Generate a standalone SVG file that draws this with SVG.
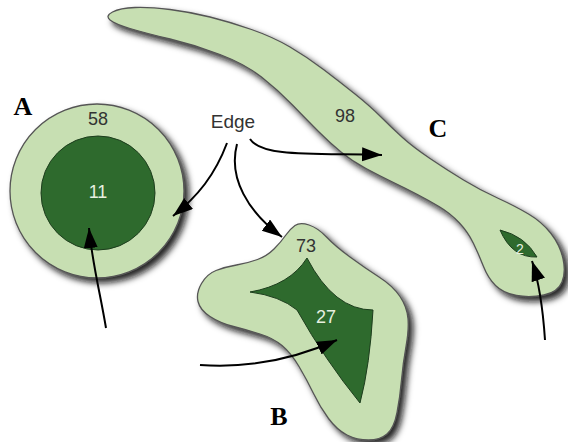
<svg xmlns="http://www.w3.org/2000/svg" width="568" height="442" viewBox="0 0 568 442">
  <defs>
    <filter id="shadow" x="-20%" y="-20%" width="140%" height="140%">
      <feDropShadow dx="4.5" dy="4.5" stdDeviation="3" flood-color="#111" flood-opacity="0.9"/>
    </filter>
    <marker id="arrow" markerUnits="userSpaceOnUse" markerWidth="22" markerHeight="16" refX="20" refY="7" orient="auto">
      <path d="M0,0 L20,7 L0,14 Z" fill="#000"/>
    </marker>
  </defs>
  <style>
    .outer { fill: #c7dfb2; stroke: #555; stroke-width: 1.3; filter: url(#shadow); }
    .inner { fill: #2e6a2d; stroke: #1d3d1d; stroke-width: 1; }
    .num { font-family: "Liberation Sans", Arial, sans-serif; font-size: 18px; text-anchor: middle; fill: #333; }
    .numw { font-family: "Liberation Sans", Arial, sans-serif; font-size: 18px; text-anchor: middle; fill: #e8f0e0; }
    .letter { font-family: "Liberation Serif", "Times New Roman", serif; font-size: 26px; font-weight: bold; text-anchor: middle; fill: #000; }
    .conn { fill: none; stroke: #000; stroke-width: 2; marker-end: url(#arrow); }
  </style>

  <g id="nodeC">
    <path class="outer" d="M110,20 Q105,16 112.5,12 Q120,8 135,7.5 Q150,7 170,9.5 Q190,12 210,17 Q230,22 251.5,29.5 Q273,37 290,47 Q307,57 323.5,69.5 Q340,82 355,94 Q370,106 381,117 Q392,128 402.5,137.5 Q413,147 430,158.5 Q447,170 463.5,180 Q480,190 497.5,198 Q515,206 528.5,214 Q542,222 551,233.5 Q560,245 563,258.5 Q566,272 562,282 Q558,292 544,295 Q530,298 516.5,295.5 Q503,293 495.5,285.5 Q488,278 483.5,266.5 Q479,255 473.5,243.5 Q468,232 459,222.5 Q450,213 439,206.5 Q428,200 416.5,194 Q405,188 392.5,182 Q380,176 366,168.5 Q352,161 341,152 Q330,143 318.5,131.5 Q307,120 292.5,105 Q278,90 261.5,77 Q245,64 220,54.5 Q195,45 170,39 Q145,33 130,28.5 Q115,24 110,20 Z"/>
    <path class="inner" d="M500,230 Q525,236 537,257 Q512,258 500,230 Z"/>
    <text class="num" x="345" y="122">98</text>
    <text class="numw" x="520" y="254" style="font-size:14px">2</text>
    <text class="letter" x="438" y="137">C</text>
  </g>

  <g id="nodeA">
    <circle class="outer" cx="97" cy="191" r="87"/>
    <circle class="inner" cx="98" cy="193" r="57"/>
    <text class="num" x="98" y="125">58</text>
    <text class="numw" x="98" y="198">11</text>
    <text class="letter" x="23" y="115">A</text>
  </g>

  <g id="nodeB">
    <path class="outer" d="M295,225.5 Q300,222 309,225 Q318,228 326.5,237 Q335,246 350,257 Q365,268 379,277 Q393,286 400,296.5 Q407,307 408,318.5 Q409,330 406,346.5 Q403,363 401.5,380 Q400,397 397,412.5 Q394,428 387,434 Q380,440 368.5,440 Q357,440 347,435 Q337,430 328.5,418.5 Q320,407 313.5,393.5 Q307,380 299,366.5 Q291,353 282,345.5 Q273,338 260,334 Q247,330 233.5,326.5 Q220,323 210,316.5 Q200,310 198,301.5 Q196,293 201.5,283.5 Q207,274 216,270.5 Q225,267 236.5,265 Q248,263 257.5,259.5 Q267,256 274,249 Q281,242 285.5,235.5 Q290,229 295,225.5 Z"/>
    <path class="inner" d="M307,258 Q334,310 373,310 Q370,365 360,403 Q325,360 297,310 Q280,296 250,292 Q290,285 307,258 Z"/>
    <text class="num" x="306" y="252">73</text>
    <text class="numw" x="326" y="323">27</text>
    <text class="letter" x="279" y="425">B</text>
  </g>

  <g id="edge-label">
    <text x="233" y="128" style="font-family:'Liberation Sans',Arial,sans-serif;font-size:19px;fill:#333;text-anchor:middle">Edge</text>
  </g>

  <g id="connectors">
    <path class="conn" d="M227,143 C215,175 198,196 173,216"/>
    <path class="conn" d="M237,144 C228,178 248,212 282,237"/>
    <path class="conn" d="M250,139 C262,158 320,153 382,155"/>
    <path class="conn" d="M106,328 C100,292 92,262 89,228"/>
    <path class="conn" d="M200,365 Q270,370 337,340"/>
    <path class="conn" d="M545,340 C543,310 540,285 532,261"/>
  </g>
</svg>
